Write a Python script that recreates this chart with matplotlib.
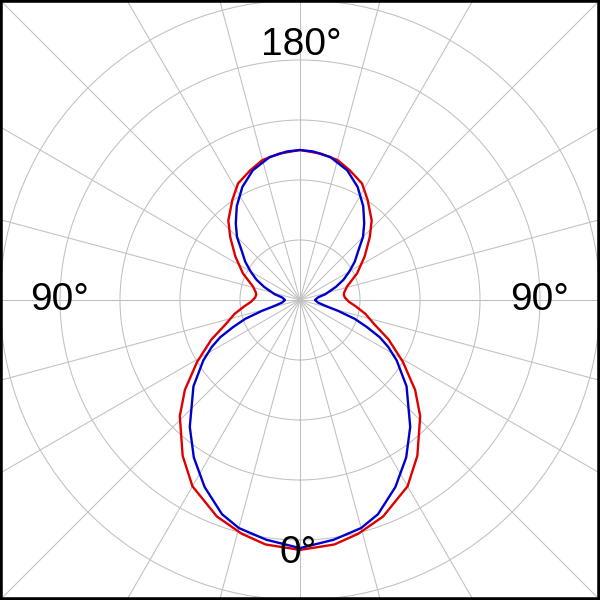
import numpy as np
import matplotlib
matplotlib.use("Agg")
import matplotlib.pyplot as plt
from matplotlib.patches import Rectangle

# patron medido, de 0 a 180 grados (simetrico respecto al eje 0-180)
ang_azul = [0, 8, 15, 20, 27, 34, 41, 51, 58, 62, 65, 68, 71, 74, 77, 82, 90,
            98, 103, 110, 115, 120, 125, 130, 135, 140, 146, 153, 160, 168, 175, 180]
r_azul = [0.827, 0.807, 0.787, 0.760, 0.700, 0.633, 0.560, 0.457, 0.380, 0.333,
          0.293, 0.240, 0.193, 0.133, 0.087, 0.060, 0.050, 0.060, 0.087, 0.127,
          0.160, 0.190, 0.223, 0.253, 0.297, 0.333, 0.377, 0.423, 0.460, 0.487,
          0.497, 0.500]

ang_rojo = [0, 8, 14, 21, 30, 37, 46, 52, 59, 66, 72, 78, 83, 88, 93, 97, 100,
            106, 115, 124, 132, 138, 146, 152, 159, 165, 172, 180]
r_rojo = [0.833, 0.823, 0.803, 0.773, 0.717, 0.650, 0.557, 0.487, 0.400, 0.323,
          0.260, 0.223, 0.190, 0.163, 0.150, 0.147, 0.150, 0.163, 0.210, 0.260,
          0.313, 0.357, 0.403, 0.440, 0.463, 0.483, 0.493, 0.500]

etiquetas = ["180°", "90°", "90°", "0°"]
pos_etiquetas = [(0.503, 0.925), (0.10, 0.50), (0.90, 0.50), (0.497, 0.078)]


def espejo(ang, r):
    ang = np.asarray(ang, dtype=float)
    r = np.asarray(r, dtype=float)
    th = np.concatenate([ang, 360 - ang[::-1][1:]])
    rr = np.concatenate([r, r[::-1][1:]])
    return np.deg2rad(th), rr


fig = plt.figure(figsize=(6, 6), dpi=100)
fig.patch.set_facecolor("white")

# eje polar mas grande que la figura para que la rejilla llegue a las esquinas
R = np.sqrt(2) / 2
ax = fig.add_axes([0.5 - R, 0.5 - R, 2 * R, 2 * R], projection="polar")
ax.set_theta_zero_location("S")
ax.set_theta_direction(-1)
ax.set_ylim(0, np.sqrt(2))
ax.set_rticks([0.2, 0.4, 0.6, 0.8, 1.0])
ax.set_yticklabels([])
ax.set_thetagrids(np.arange(0, 360, 15), labels=[])
ax.grid(True, color="#c0c0c0", linewidth=0.75)
ax.spines["polar"].set_visible(False)
ax.tick_params(length=0)

th, rr = espejo(ang_rojo, r_rojo)
ax.plot(th, rr, color="#dd0000", linewidth=1.7)
th, rr = espejo(ang_azul, r_azul)
ax.plot(th, rr, color="#0000cc", linewidth=1.7)

for txt, (x, y) in zip(etiquetas, pos_etiquetas):
    fig.text(x, y, txt, ha="center", va="center", fontsize=28,
             family="Liberation Sans", color="black")

fig.patches.append(Rectangle((0, 0), 1, 1, transform=fig.transFigure,
                             fill=False, edgecolor="black", linewidth=4))

fig.savefig("out.png", dpi=100)
